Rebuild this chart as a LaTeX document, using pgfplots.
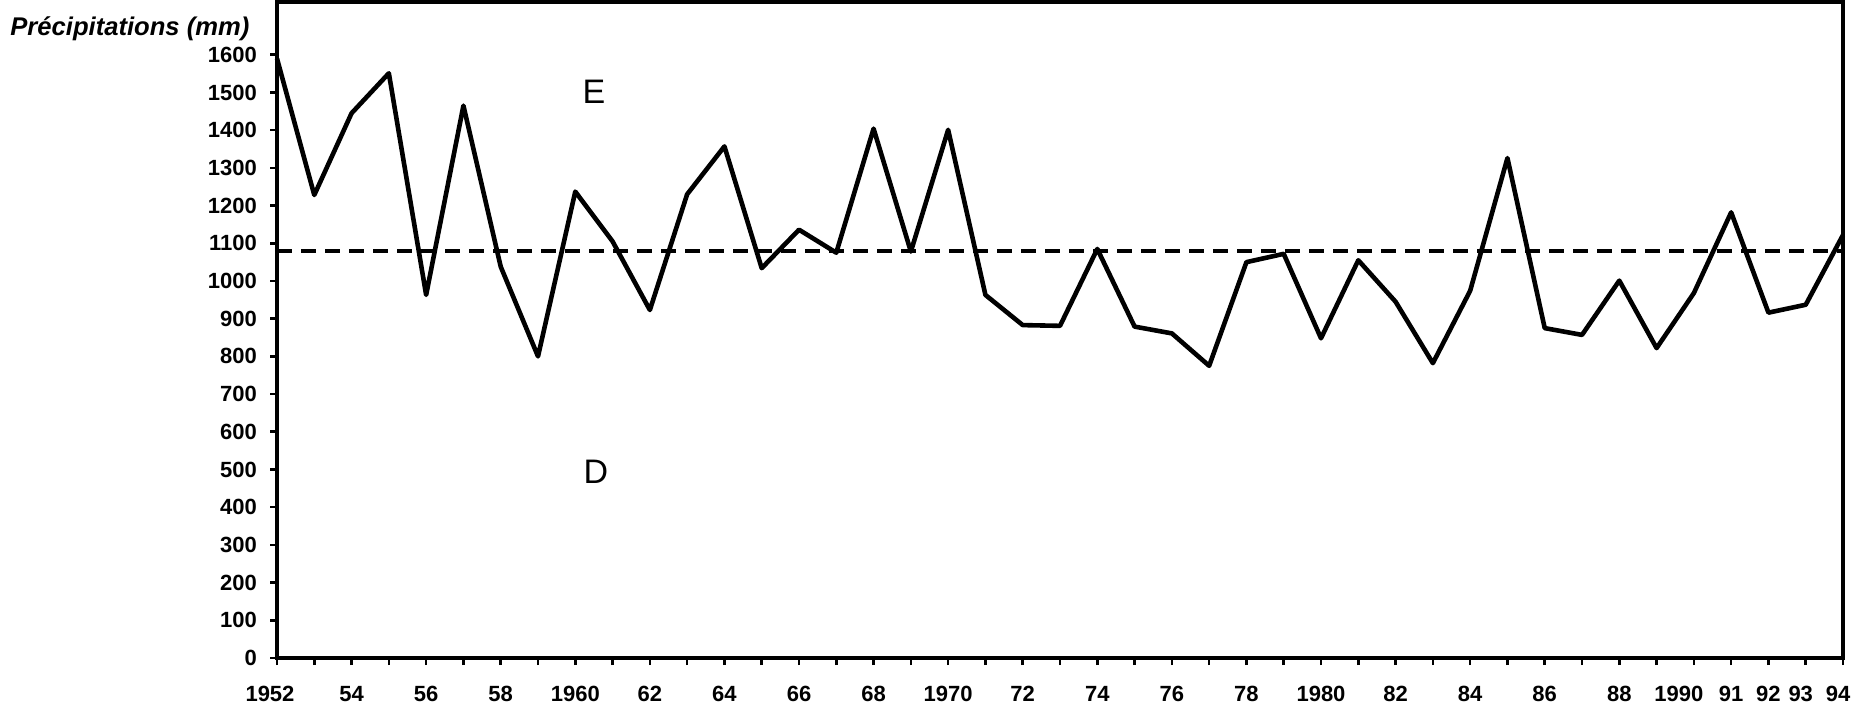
\documentclass[border=0pt]{standalone}
\usepackage{pgfplots}
\pgfplotsset{compat=1.18}
\usepackage{fontspec}
\setmainfont{Liberation Sans}
\pgfplotstableread{
year value
1952 1590
1953 1228
1954 1445
1955 1551
1956 963
1957 1465
1958 1038
1959 800
1960 1237
1961 1105
1962 923
1963 1230
1964 1357
1965 1034
1966 1136
1967 1075
1968 1404
1969 1078
1970 1401
1971 963
1972 883
1973 881
1974 1085
1975 879
1976 861
1977 775
1978 1050
1979 1072
1980 848
1981 1055
1982 945
1983 782
1984 974
1985 1326
1986 875
1987 857
1988 1001
1989 822
1990 968
1991 1182
1992 916
1993 937
1994 1122
}\precip
\begin{document}
\begin{tikzpicture}
\begin{axis}[
  scale only axis, width=783pt, height=328pt,
  xmin=1952, xmax=1994, ymin=0, ymax=1740,
  axis line style={line width=1.6pt, black},
  tick align=outside, xtick pos=bottom, ytick pos=left,
  xtick={1952,1954,1956,1958,1960,1962,1964,1966,1968,1970,1972,1974,1976,1978,1980,1982,1984,1986,1988,1990,1991,1992,1993,1994},
  xticklabels={\hspace*{-7pt}1952,54,56,58,1960,62,64,66,68,1970,72,74,76,78,1980,82,84,86,88,\hspace*{-15pt}1990,91,92,\hspace*{-5pt}93,\hspace*{-5pt}94},
  minor xtick={1953,1955,1957,1959,1961,1963,1965,1967,1969,1971,1973,1975,1977,1979,1981,1983,1985,1987,1989},
  ytick={0,100,...,1600},
  major tick length=3.5pt, minor tick length=3.5pt,
  every tick/.style={line width=1.3pt, black},
  /pgf/number format/assume math mode=true,
  /pgf/number format/1000 sep={},
  xticklabel style={font=\bfseries\fontsize{11}{12}\selectfont, yshift=-7pt},
  yticklabel style={font=\bfseries\fontsize{11}{12}\selectfont, xshift=-3pt},
  clip=false,
]
\addplot[black, line width=2pt, dash pattern=on 7.5pt off 4.5pt] coordinates {(1952,1080) (1994,1080)};
\addplot[black, line width=2.3pt, line join=round] table[x=year, y=value] {\precip};
\node[font=\fontsize{17}{20}\selectfont] at (axis cs:1960.5,1502) {E};
\node[font=\fontsize{17}{20}\selectfont] at (axis cs:1960.55,493) {D};
\end{axis}
\node[anchor=west, font=\bfseries\itshape\fontsize{12.8}{14}\selectfont, inner sep=0pt] at ([xshift=-133.5pt, yshift=-13.5pt]current axis.north west) {Précipitations (mm)};
\pgfresetboundingbox
\path[use as bounding box] ([xshift=-138.5pt, yshift=-27pt]current axis.south west) rectangle ([xshift=13pt, yshift=1pt]current axis.north east);
\end{tikzpicture}
\end{document}
